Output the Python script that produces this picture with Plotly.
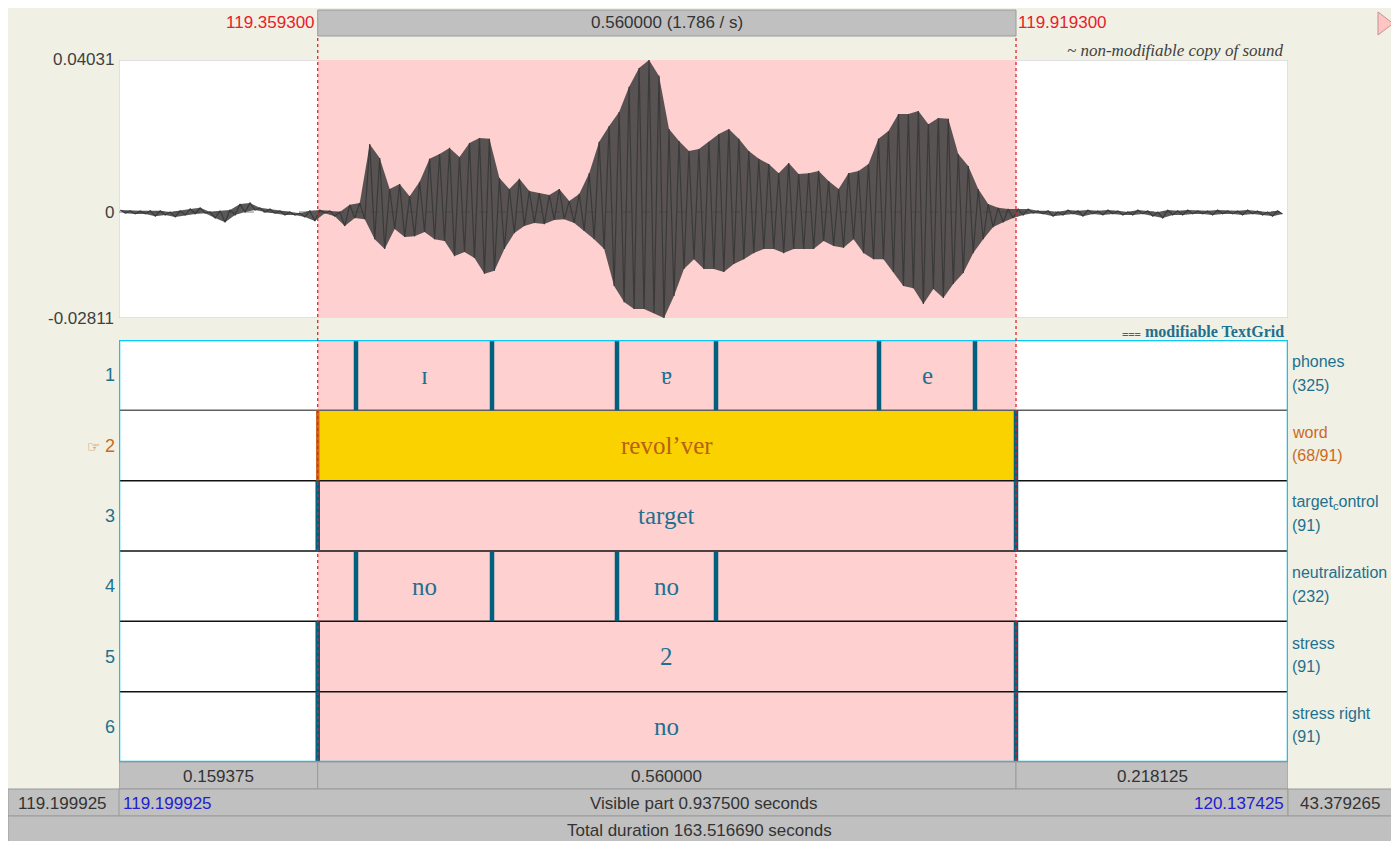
import plotly.graph_objects as go

# ---------------- data ----------------
vis_start = 119.199925
vis_end = 120.137425
sel_start = 119.359300
sel_end = 119.919300
total_duration = 163.516690
right_remaining = 43.379265
wave_ymax = 0.04031
wave_ymin = -0.02811

tier_names = ["phones", "word", "target<sub>c</sub>ontrol", "neutralization", "stress", "stress right"]
tier_counts = ["(325)", "(68/91)", "(91)", "(232)", "(91)", "(91)"]
selected_tier = 2

# boundary times per tier (only those inside the visible window)
phone_bounds = [119.38999, 119.49907, 119.59930, 119.67870, 119.80942, 119.88641]
word_bounds = [sel_start, sel_end]
target_bounds = [sel_start, sel_end]
neutral_bounds = [119.38999, 119.49907, 119.59930, 119.67870]
stress_bounds = [sel_start, sel_end]
stressr_bounds = [sel_start, sel_end]
tier_bounds = [phone_bounds, word_bounds, target_bounds, neutral_bounds, stress_bounds, stressr_bounds]

# labelled intervals per tier: (start, end, text)
phone_labels = [(119.38999, 119.49907, "ɪ"), (119.59930, 119.67870, "ɐ"), (119.80942, 119.88641, "e")]
word_labels = [(sel_start, sel_end, "revol’ver")]
target_labels = [(sel_start, sel_end, "target")]
neutral_labels = [(119.38999, 119.49907, "no"), (119.59930, 119.67870, "no")]
stress_labels = [(sel_start, sel_end, "2")]
stressr_labels = [(sel_start, sel_end, "no")]
tier_labels = [phone_labels, word_labels, target_labels, neutral_labels, stress_labels, stressr_labels]

# waveform envelope (units of 1e-3), one reading every 8 ms
wave_t0 = 119.201
wave_step = 0.008
wave_upper = [0.5, 0.3, 0.3, 0.3, 0.3, 0.0, 0.3, 0.8, 1.1, 0.0, 0.3, 0.5, 2.1, 2.4, 1.1, 0.8, 0.3, 0.0, -0.3, 0.3,
              0.5, 0.3, 0.0, 1.9, 2.4, 18.0, 14.3, 6.1, 7.4, 4.2, 8.0, 14.1, 15.4, 17.0, 14.6, 18.3, 19.6, 19.4, 9.0, 6.1,
              8.8, 5.6, 5.0, 4.5, 6.1, 2.9, 4.8, 10.3, 18.6, 22.8, 26.5, 33.2, 38.2, 40.3, 36.1, 22.0, 18.8, 16.2, 16.7, 18.6,
              20.7, 22.0, 19.4, 16.2, 14.1, 12.7, 10.3, 13.0, 10.1, 10.3, 10.9, 8.2, 6.1, 10.3, 10.9, 12.7, 19.4, 21.5, 26.0, 26.0,
              26.8, 23.3, 24.9, 24.7, 15.4, 12.2, 6.1, 2.1, 1.1, 0.8, 0.8, 0.8, 0.3, 0.3, 0.0, 0.5, 0.3, 0.5, 0.3, 0.5,
              0.3, 0.0, 0.5, 0.3, 0.0, 0.5, 0.3, 0.5, 0.3, 0.3, 0.5, 0.3, 0.3, 0.5, 0.3, 0.0, 0.3]
wave_lower = [-0.3, -0.5, -0.5, -1.1, -0.8, -1.3, -0.8, -0.5, -0.3, -1.6, -2.7, -0.8, 0.0, 0.5, 0.0, -0.3, -0.8, -0.8, -1.3, -2.4,
              -0.3, -1.1, -3.7, -1.6, -1.9, -7.2, -9.8, -4.5, -6.6, -6.4, -5.3, -7.2, -7.7, -11.7, -10.6, -12.2, -16.4, -15.6, -9.8, -5.6,
              -3.7, -2.9, -3.2, -2.1, -1.9, -2.9, -5.0, -7.2, -9.8, -19.6, -23.9, -25.7, -25.7, -26.8, -28.1, -22.3, -15.1, -12.5, -15.1, -15.1,
              -15.9, -13.8, -12.5, -10.9, -9.8, -9.8, -10.9, -9.8, -9.8, -9.8, -7.7, -9.0, -9.5, -7.2, -10.9, -12.5, -12.5, -15.9, -19.6, -20.2,
              -24.4, -20.4, -22.8, -19.1, -16.2, -10.9, -7.2, -4.0, -2.7, -1.6, -0.8, -0.3, -0.5, -1.1, -0.8, -0.5, -1.1, -0.5, -0.8, -0.5,
              -0.8, -0.8, -0.5, -1.1, -1.6, -0.8, -0.8, -0.5, -0.5, -0.8, -0.5, -0.5, -0.8, -0.5, -0.8, -1.1, -0.5]

# ---------------- layout helpers ----------------
W, H = 1383, 833
OX, OY = 8, 8
def px(x):
    return (x - OX) / W
def py(y):
    return 1 - (y - OY) / H

BEIGE = "#F0F0E4"
GRAY = "#C0C0C0"
GRAY_LINE = "#9A9A9A"
PINK = "#FFD0D0"
YELLOW = "#F9D200"
CYAN = "#08C8F8"
TEAL = "#1E7090"
BOUND = "#00607E"
ORANGE = "#CC6A1C"
RED = "#E8202A"
BLUE = "#2020D0"
DARK = "#333333"
SANS = "Liberation Sans, Arial, sans-serif"
SERIF = "Liberation Serif, Times New Roman, serif"

# ---------------- waveform traces ----------------
wx, wy = [], []
up_t, lo_t = [], []
for i in range(len(wave_upper)):
    t = wave_t0 + i * wave_step
    wx += [t, t + wave_step / 2]
    wy += [wave_upper[i] / 1000.0, wave_lower[i] / 1000.0]
    up_t.append(t)
    lo_t.append(t + wave_step / 2)

fig = go.Figure()
# dense envelope body
fig.add_trace(go.Scatter(x=up_t + lo_t[::-1],
                         y=[v / 1000.0 for v in wave_upper] + [v / 1000.0 for v in wave_lower][::-1],
                         mode="lines", fill="toself", fillcolor="rgba(60,60,60,0.85)",
                         line=dict(width=0), xaxis="x", yaxis="y", hoverinfo="skip", showlegend=False))
fig.add_trace(go.Scatter(x=wx, y=wy, mode="lines", line=dict(color="#3A3A3A", width=1.2),
                         xaxis="x", yaxis="y", hoverinfo="skip", showlegend=False))
fig.add_trace(go.Scatter(x=[vis_start], y=[0], mode="markers", marker=dict(opacity=0),
                         xaxis="x", yaxis="y2", hoverinfo="skip", showlegend=False))

shapes = []
def rect_paper(x0, y0, x1, y1, fill, line=GRAY_LINE, lw=1, layer="below"):
    shapes.append(dict(type="rect", xref="paper", yref="paper", x0=px(x0), x1=px(x1), y0=py(y1), y1=py(y0),
                       fillcolor=fill, line=dict(color=line, width=lw), layer=layer))

# top duration bar (x from selection times)
shapes.append(dict(type="rect", xref="x", yref="paper", x0=sel_start, x1=sel_end, y0=py(36), y1=py(10),
                   fillcolor=GRAY, line=dict(color=GRAY_LINE, width=1), layer="below"))
# waveform panel
shapes.append(dict(type="rect", xref="x", yref="y", x0=vis_start, x1=vis_end, y0=wave_ymin, y1=wave_ymax,
                   fillcolor="white", line=dict(color="#D8D8D8", width=1.5), layer="below"))
shapes.append(dict(type="rect", xref="x", yref="y", x0=sel_start, x1=sel_end, y0=wave_ymin, y1=wave_ymax,
                   fillcolor=PINK, line=dict(width=0), layer="below"))
shapes.append(dict(type="line", xref="x", yref="y", x0=vis_start, x1=vis_end, y0=0, y1=0,
                   line=dict(color="#808080", width=1, dash="dash"), layer="below"))
# textgrid panel
shapes.append(dict(type="rect", xref="x", yref="y2", x0=vis_start, x1=vis_end, y0=0, y1=6,
                   fillcolor="white", line=dict(width=0), layer="below"))
shapes.append(dict(type="rect", xref="x", yref="y2", x0=sel_start, x1=sel_end, y0=0, y1=6,
                   fillcolor=PINK, line=dict(width=0), layer="below"))
shapes.append(dict(type="rect", xref="x", yref="y2", x0=sel_start, x1=sel_end,
                   y0=selected_tier - 1, y1=selected_tier, fillcolor=YELLOW, line=dict(width=0), layer="below"))
for k in range(1, 6):
    shapes.append(dict(type="line", xref="x", yref="y2", x0=vis_start, x1=vis_end, y0=k, y1=k,
                       line=dict(color="#606060" if k == 1 else "#111111", width=1.5), layer="above"))
# boundaries
for ti, bounds in enumerate(tier_bounds):
    for b in bounds:
        col = BOUND
        w = 4.5
        if ti + 1 == selected_tier and abs(b - sel_start) < 1e-9:
            col, w = ORANGE, 3.5
        shapes.append(dict(type="line", xref="x", yref="y2", x0=b, x1=b, y0=ti, y1=ti + 1,
                           line=dict(color=col, width=w), layer="above"))
# cyan frame
shapes.append(dict(type="rect", xref="x", yref="y2", x0=vis_start, x1=vis_end, y0=0, y1=6,
                   fillcolor="rgba(0,0,0,0)", line=dict(color=CYAN, width=2.5), layer="above"))
# red dotted selection lines
for t in (sel_start, sel_end):
    shapes.append(dict(type="line", xref="x", yref="paper", x0=t, x1=t, y0=py(761), y1=py(37),
                       line=dict(color=RED, width=1.3, dash="dot"), layer="above"))
# bottom bars
shapes.append(dict(type="rect", xref="x", yref="paper", x0=vis_start, x1=sel_start, y0=py(789), y1=py(762),
                   fillcolor=GRAY, line=dict(color=GRAY_LINE, width=1), layer="below"))
shapes.append(dict(type="rect", xref="x", yref="paper", x0=sel_start, x1=sel_end, y0=py(789), y1=py(762),
                   fillcolor=GRAY, line=dict(color=GRAY_LINE, width=1), layer="below"))
shapes.append(dict(type="rect", xref="x", yref="paper", x0=sel_end, x1=vis_end, y0=py(789), y1=py(762),
                   fillcolor=GRAY, line=dict(color=GRAY_LINE, width=1), layer="below"))
rect_paper(8, 789, 119, 816, GRAY)
shapes.append(dict(type="rect", xref="x", yref="paper", x0=vis_start, x1=vis_end, y0=py(816), y1=py(789),
                   fillcolor=GRAY, line=dict(color=GRAY_LINE, width=1), layer="below"))
rect_paper(1288, 789, 1392, 816, GRAY)
rect_paper(8, 816, 1392, 842, GRAY)
# play triangle
shapes.append(dict(type="path", xref="paper", yref="paper",
                   path=f"M {px(1378)},{py(12)} L {px(1393)},{py(23.5)} L {px(1378)},{py(35)} Z",
                   fillcolor="#FFC4C4", line=dict(color="#C89090", width=1), layer="above"))

ann = []
def A(text, x, y, xref="paper", yref="paper", xanchor="center", yanchor="middle", size=17,
      color=DARK, family=SANS, **kw):
    ann.append(dict(text=text, x=x, y=y, xref=xref, yref=yref, xanchor=xanchor, yanchor=yanchor,
                    showarrow=False, font=dict(size=size, color=color, family=family), **kw))

sel_dur = sel_end - sel_start
A(f"{sel_start:.6f}", sel_start, py(23), xref="x", xanchor="right", color=RED, xshift=-1)
A(f"{sel_end:.6f}", sel_end, py(23), xref="x", xanchor="left", color=RED, xshift=0)
A(f"{sel_dur:.6f} ({1/sel_dur:.3f} / s)", (sel_start + sel_end) / 2, py(23), xref="x")
A("<i>~ non-modifiable copy of sound</i>", vis_end, py(51), xref="x", xanchor="right",
  family=SERIF, size=17, color="#404040", xshift=-2)
A("<span style='font-size:11px'>⩶</span> <b>modifiable TextGrid</b>", vis_end, py(331), xref="x", xanchor="right",
  family=SERIF, size=16, color=TEAL, xshift=-2)
# waveform y labels
for v, s in ((wave_ymax, f"{wave_ymax:.5f}"), (0, "0"), (wave_ymin, f"{wave_ymin:.5f}")):
    A(s, px(116), v, yref="y", xanchor="right", color="#404040")
# tier numbers and names
for i in range(6):
    col = ORANGE if i + 1 == selected_tier else TEAL
    num = f"<span style='font-size:15px'>☞</span> {i+1}" if i + 1 == selected_tier else f"{i+1}"
    A(num, px(117), i + 0.5, yref="y2", xanchor="right", color=col, size=18)
    A(tier_names[i], px(1290), i + 0.31, yref="y2", xanchor="left", color=col, size=16)
    A(tier_counts[i], px(1290), i + 0.64, yref="y2", xanchor="left", color=col, size=16)
# interval labels
for i, labs in enumerate(tier_labels):
    for (s, e, txt) in labs:
        col = "#B8601A" if i + 1 == selected_tier else TEAL
        A(txt, (s + e) / 2, i + 0.5, xref="x", yref="y2", family=SERIF, size=25, color=col)
# bottom texts
A(f"{sel_start - vis_start:.6f}", (vis_start + sel_start) / 2, py(776), xref="x")
A(f"{sel_dur:.6f}", (sel_start + sel_end) / 2, py(776), xref="x")
A(f"{vis_end - sel_end:.6f}", (sel_end + vis_end) / 2, py(776), xref="x")
A(f"{vis_start:.6f}", px(63), py(803))
A(f"{vis_start:.6f}", vis_start, py(803), xref="x", xanchor="left", color=BLUE, xshift=2)
A(f"Visible part {vis_end - vis_start:.6f} seconds", (vis_start + vis_end) / 2, py(803), xref="x")
A(f"{vis_end:.6f}", vis_end, py(803), xref="x", xanchor="right", color=BLUE, xshift=-2)
A(f"{right_remaining:.6f}", px(1340), py(803))
A(f"Total duration {total_duration:.6f} seconds", px(699), py(830))

fig.update_layout(
    width=W, height=H, margin=dict(l=0, r=0, t=0, b=0),
    paper_bgcolor=BEIGE, plot_bgcolor="rgba(0,0,0,0)",
    showlegend=False, shapes=shapes, annotations=ann,
    xaxis=dict(domain=[px(119), px(1288)], range=[vis_start, vis_end], visible=False, fixedrange=True),
    yaxis=dict(domain=[py(318), py(60)], range=[wave_ymin, wave_ymax], visible=False, fixedrange=True),
    yaxis2=dict(domain=[py(762), py(340)], range=[6, 0], visible=False, anchor="x", fixedrange=True),
)
fig.write_html("out.html", config={"displayModeBar": False, "responsive": False},
               post_script=("document.documentElement.style.overflow='hidden';"
                            "document.body.style.overflow='hidden';"
                            "document.body.style.margin='8px 0 0 8px';"))
